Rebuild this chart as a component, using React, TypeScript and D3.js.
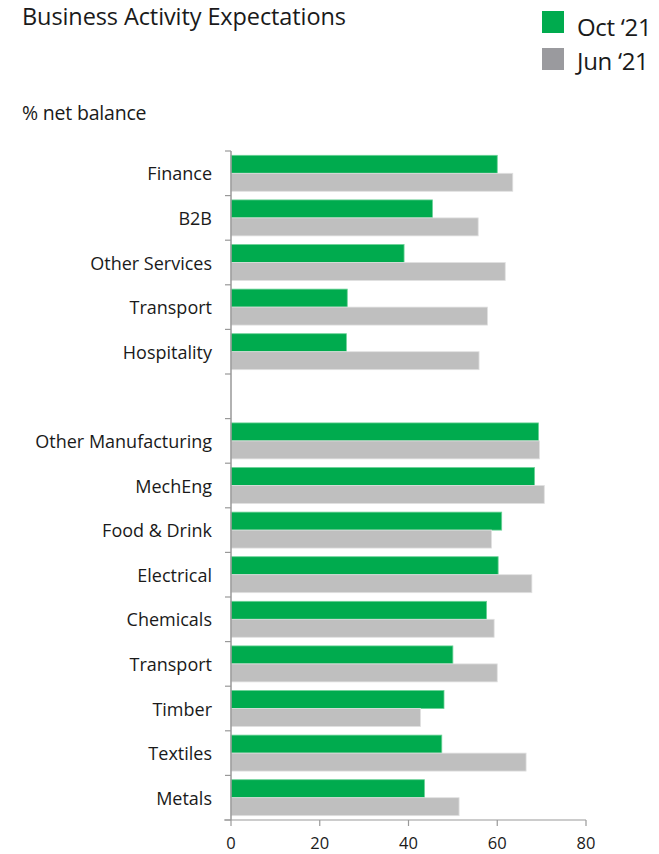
import React from "react";
import * as d3 from "d3";

const categories = [
  "Finance", "B2B", "Other Services", "Transport", "Hospitality", "",
  "Other Manufacturing", "MechEng", "Food & Drink", "Electrical", "Chemicals",
  "Transport", "Timber", "Textiles", "Metals",
];
const oct21 = [60, 45.4, 39, 26.2, 26, NaN, 69.3, 68.4, 61, 60.2, 57.6, 50, 48, 47.5, 43.6];
const jun21 = [63.5, 55.7, 61.8, 57.8, 55.9, NaN, 69.5, 70.6, 58.7, 67.8, 59.3, 60, 42.7, 66.5, 51.4];
const seriesNames = ["Oct \u201821", "Jun \u201821"];
const xTicks = [0, 20, 40, 60, 80];

const W = 659, H = 854;
const left = 231, right = 586, top = 151, bottom = 820;
const GREEN = "#00AB4E", GRAY = "#BFBFBF";
const FONT = "'Open Sans', sans-serif";

export default function App() {
  const ids = categories.map((_, i) => String(i));
  const x = d3.scaleLinear().domain([0, 80]).range([left, right]);
  const y = d3.scaleBand<string>().domain(ids).range([top, bottom]).paddingInner(0).paddingOuter(0);
  const sub = d3.scaleBand<string>().domain(["a", "b"]).range([0, y.step()]).paddingInner(0).paddingOuter(0.24);
  const series = [
    { key: "a", values: oct21, color: GREEN, stroke: "#6BD197" },
    { key: "b", values: jun21, color: GRAY, stroke: "#E0E0E0" },
  ];
  const boundaries = d3.range(categories.length + 1).map((i) => top + i * y.step());
  return (
    <svg width={W} height={H} style={{ position: "absolute", left: 0, top: 0 }}>
      <rect width={W} height={H} fill="#fff" />
      <text x={22} y={25} fontFamily={FONT} fontSize={23.5} fill="#1a1a1a" letterSpacing={-0.1}>Business Activity Expectations</text>
      <text x={22} y={120} fontFamily={FONT} fontSize={19.5} fill="#1a1a1a" letterSpacing={-0.2}>% net balance</text>
      {seriesNames.map((n, i) => (
        <g key={n}>
          <rect x={542} y={11 + i * 37} width={22} height={22} fill={i === 0 ? GREEN : "#9A9A9E"} />
          <text x={577} y={36 + i * 34} fontFamily={FONT} fontSize={24} fill="#1a1a1a" letterSpacing={-0.3}>{n}</text>
        </g>
      ))}
      {series.map((s) =>
        s.values.map((v, i) =>
          isNaN(v) ? null : (
            <rect key={s.key + i} x={x(0)} y={(y(ids[i]) as number) + (sub(s.key) as number)}
              width={x(v) - x(0)} height={sub.bandwidth()} fill={s.color} stroke={s.stroke} strokeWidth={0.8} />
          )
        )
      )}
      <line x1={left} x2={left} y1={top} y2={bottom} stroke="#999" strokeWidth={1.5} />
      {boundaries.map((b, i) => (
        <line key={i} x1={left - 6} x2={left} y1={b} y2={b} stroke="#999" strokeWidth={1.2} />
      ))}
      <line x1={left - 7} x2={right} y1={bottom} y2={bottom} stroke="#999" strokeWidth={1.2} />
      {xTicks.map((t) => (
        <g key={t}>
          <line x1={x(t)} x2={x(t)} y1={bottom} y2={bottom + 6} stroke="#999" strokeWidth={1.2} />
          <text x={x(t)} y={849} textAnchor="middle" fontFamily={FONT} fontSize={16.5} fill="#1a1a1a">{t}</text>
        </g>
      ))}
      {categories.map((c, i) => (
        <text key={i} x={212} y={(y(ids[i]) as number) + y.step() / 2 + 7} textAnchor="end" fontFamily={FONT} fontSize={18} fill="#1a1a1a">{c}</text>
      ))}
    </svg>
  );
}
